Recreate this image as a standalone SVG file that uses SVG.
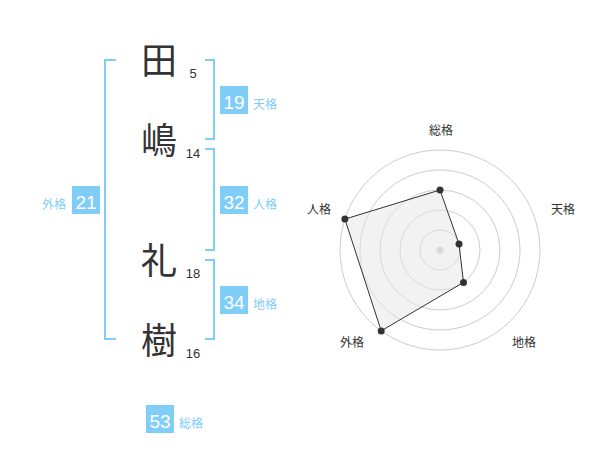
<svg xmlns="http://www.w3.org/2000/svg" width="600" height="470" viewBox="0 0 600 470">
<style>
.kanji{font-family:"Noto Sans CJK JP","Noto Sans CJK SC",sans-serif;font-size:36px;fill:#333;text-anchor:middle}
.strk{font-family:"Liberation Sans",Arial,sans-serif;font-size:13px;fill:#333;text-anchor:middle}
.br{fill:none;stroke:#80cdf8;stroke-width:2}
.box{fill:#80cdf8}
.num{font-family:"Liberation Sans",Arial,sans-serif;font-size:19px;fill:#fff;text-anchor:middle}
.lab{font-family:"Noto Sans CJK JP","Noto Sans CJK SC",sans-serif;font-size:12px;fill:#80cdf8}
.ring{fill:none;stroke:#cccccc;stroke-width:1}
.axl{font-family:"Noto Sans CJK JP","Noto Sans CJK SC",sans-serif;font-size:12px;fill:#333;text-anchor:middle}
.pt{fill:#333}
</style>
<rect width="600" height="470" fill="#fff"/>
<g id="name">
<g id="c1"><text class="kanji" x="159" y="74">田</text><text class="strk" x="193" y="78">5</text></g>
<g id="c2"><text class="kanji" x="159" y="154">嶋</text><text class="strk" x="193" y="158">14</text></g>
<g id="c3"><text class="kanji" x="159" y="274">礼</text><text class="strk" x="193" y="278">18</text></g>
<g id="c4"><text class="kanji" x="159" y="354">樹</text><text class="strk" x="193" y="358">16</text></g>
</g>
<g id="connectors">
<path class="br" d="M116,60 H105 V339 H116"/>
<path class="br" d="M205,60 H214 V139 H205"/>
<path class="br" d="M205,149 H214 V250 H205"/>
<path class="br" d="M205,260 H214 V339 H205"/>
</g>
<g id="tenkaku"><rect class="box" x="220" y="86" width="28" height="28"/><text class="num" x="234" y="108.5">19</text><text class="lab" x="253" y="109">天格</text></g>
<g id="jinkaku"><rect class="box" x="220" y="186" width="28" height="28"/><text class="num" x="234" y="208.5">32</text><text class="lab" x="253" y="209">人格</text></g>
<g id="chikaku"><rect class="box" x="220" y="286" width="28" height="28"/><text class="num" x="234" y="308.5">34</text><text class="lab" x="253" y="309">地格</text></g>
<g id="gaikaku"><rect class="box" x="72" y="186" width="28" height="28"/><text class="num" x="86" y="208.5">21</text><text class="lab" x="66" y="209" text-anchor="end">外格</text></g>
<g id="soukaku"><rect class="box" x="146" y="405" width="28" height="28"/><text class="num" x="160" y="427.5">53</text><text class="lab" x="179" y="428">総格</text></g>
<g id="radar">
<circle class="ring" cx="440" cy="250" r="20"/>
<circle class="ring" cx="440" cy="250" r="40"/>
<circle class="ring" cx="440" cy="250" r="60"/>
<circle class="ring" cx="440" cy="250" r="80"/>
<circle class="ring" cx="440" cy="250" r="100"/>
<circle cx="440" cy="250" r="3.5" fill="#cccccc"/>
<polygon points="440,190 459,244 463.5,282.4 381.2,330.9 344.9,219.1" fill="#e6e6e6" fill-opacity="0.5" stroke="#333" stroke-width="1"/>
<circle class="pt" cx="440" cy="190" r="3.5"/>
<circle class="pt" cx="459" cy="244" r="3.5"/>
<circle class="pt" cx="463.5" cy="282.4" r="3.5"/>
<circle class="pt" cx="381.2" cy="330.9" r="3.5"/>
<circle class="pt" cx="344.9" cy="219.1" r="3.5"/>
<text class="axl" x="441" y="135">総格</text>
<text class="axl" x="563" y="214">天格</text>
<text class="axl" x="524" y="347">地格</text>
<text class="axl" x="352" y="347">外格</text>
<text class="axl" x="319" y="214">人格</text>
</g>
</svg>
